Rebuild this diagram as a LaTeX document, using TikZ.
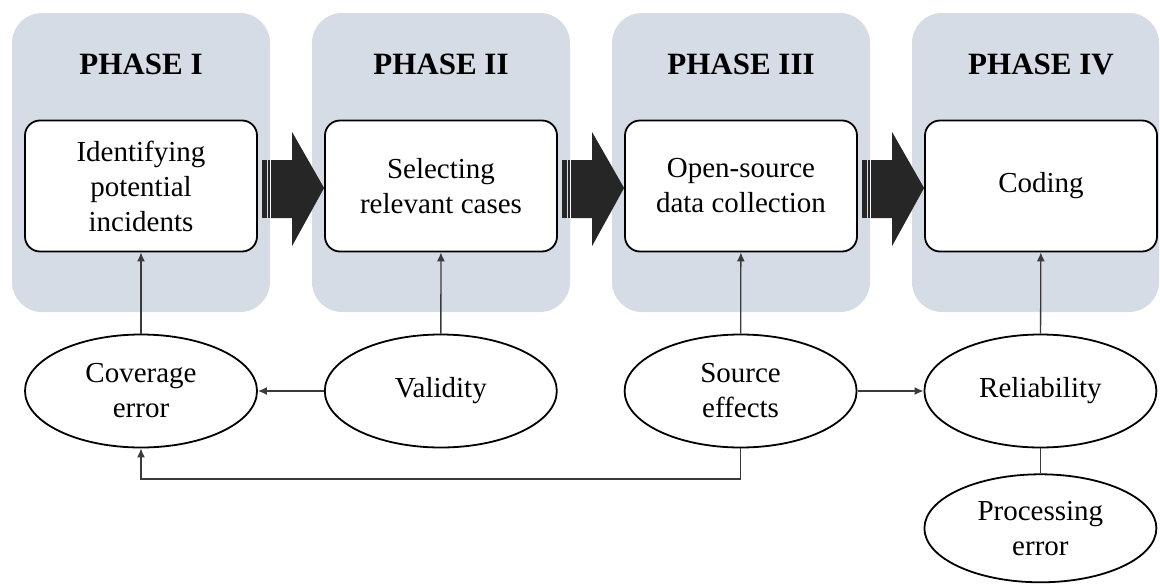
\documentclass[tikz,border=0pt]{standalone}
\usepackage{fontspec}
\setmainfont{Liberation Serif}
\usepackage{tikz}
\usetikzlibrary{arrows.meta,shapes,positioning}

\definecolor{phasebg}{HTML}{D6DCE5}
\definecolor{arrowfill}{HTML}{262626}
\definecolor{linkgray}{HTML}{3A3A3A}

\begin{document}
\begin{tikzpicture}[
        x=1pt, y=-1pt,
        node distance=25pt and 66pt,
        every node/.style={align=center, font=\fontsize{29}{35}\selectfont},
        phasepanel/.style={rectangle, rounded corners=30pt, fill=phasebg, minimum width=258pt, minimum height=299pt, inner sep=0pt},
        phasetitle/.style={font=\fontsize{31}{35}\selectfont\bfseries, anchor=base},
        stage/.style={draw, rectangle, rounded corners=15pt, fill=white, line width=1.8pt, minimum width=232pt, minimum height=131pt, inner sep=0pt},
        factor/.style={draw, ellipse, fill=white, line width=1.8pt, minimum width=232pt, minimum height=113pt, inner sep=0pt},
        link/.style={draw=linkgray, line width=1.3pt},
        >={Latex[length=9pt,width=8pt]}
    ]
  \useasboundingbox (0,0) rectangle (1160,584);

  % Phases
  \node (panel1) [phasepanel] at (141,162.5) {};
  \node (panel2) [phasepanel] at (441,162.5) {};
  \node (panel3) [phasepanel] at (741,162.5) {};
  \node (panel4) [phasepanel, minimum width=247pt] at (1035.5,162.5) {};

  \node (title1) [phasetitle] at (141,74) {PHASE I};
  \node (title2) [phasetitle] at (441,74) {PHASE II};
  \node (title3) [phasetitle] at (741,74) {PHASE III};
  \node (title4) [phasetitle] at (1041,74) {PHASE IV};

  % Nodes
  \node (box1) [stage] at (141,186) {Identifying\\potential\\incidents};
  \node (box2) [stage] at (441,186) {Selecting\\relevant cases};
  \node (box3) [stage] at (741,186) {Open-source\\data collection};
  \node (box4) [stage] at (1041,186) {Coding};

  \node (coverage) [factor] at (141,391) {Coverage\\error};
  \node (validity) [factor, right=of coverage] {Validity};
  \node (source) [factor, right=of validity] {Source\\effects};
  \node (reliability) [factor, right=of source] {Reliability};
  \node (processing) [factor, below=of reliability, minimum height=108pt] {Processing\\error};

  \coordinate (loop) at (441,479);

  % Block arrows
  \foreach \a/\b in {box1/box2, box2/box3, box3/box4}{
    \fill[arrowfill] ([yshift=-2pt]\b.west) -- ++(-32,-56) -- ++(0,28) -- ++(-21,0)
      -- ++(0,58) -- ++(21,0) -- ++(0,28) -- cycle;
    \fill[arrowfill] ([shift={(4.5,-26)}]\a.east) rectangle ++(4.5,58);
    \fill[arrowfill] ([shift={(10,-26)}]\a.east) rectangle ++(2.2,58);
  }

  \draw[link, ->] (coverage) -- (box1);
  \draw[link, ->] (validity) -- (box2);
  \draw[link, ->] (source) -- (box3);
  \draw[link, ->] (reliability) -- (box4);
  \draw[link, ->] (validity) -- (coverage);
  \draw[link, ->] (source) -- (reliability);
  \draw[link] (reliability) -- (processing);
  \draw[link, ->] (source.south) |- (loop) -| (coverage.south);
\end{tikzpicture}
\end{document}
